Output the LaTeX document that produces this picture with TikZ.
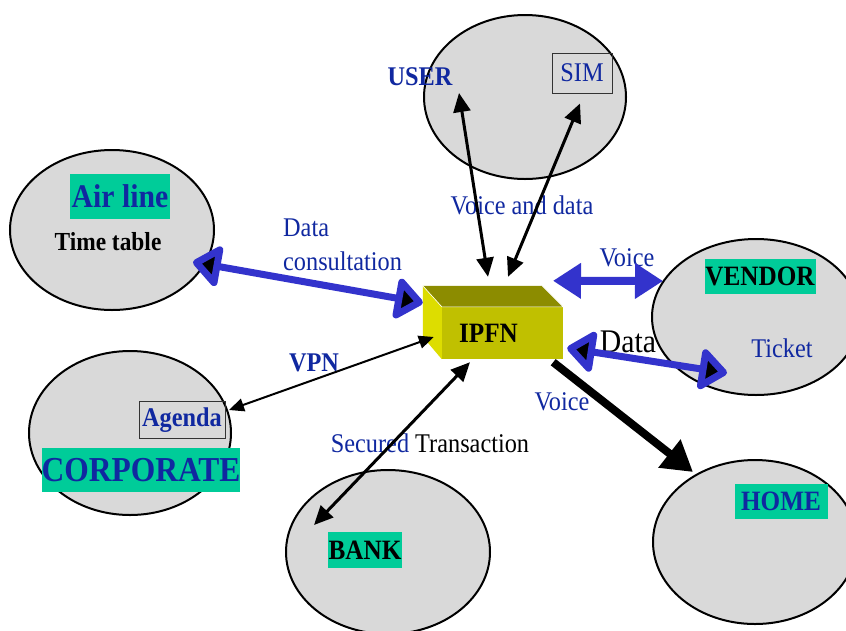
\documentclass[tikz,border=0pt]{standalone}
\usepackage{fontspec}
\setmainfont{Liberation Serif}[FakeStretch=0.9]
\usetikzlibrary{shapes.geometric,arrows.meta,positioning,calc}
\definecolor{zonegray}{RGB}{217,217,217}
\definecolor{taggreen}{RGB}{0,204,153}
\definecolor{labelblue}{RGB}{16,40,160}
\definecolor{linkblue}{RGB}{51,51,204}
\definecolor{boxfront}{RGB}{192,192,0}
\definecolor{boxtop}{RGB}{140,140,0}
\definecolor{boxside}{RGB}{221,221,0}
\newcommand{\fsize}[1]{\fontsize{#1}{#1}\selectfont}
\tikzset{
	zone/.style = {draw, line width=2pt, fill=zonegray, ellipse, inner sep=0pt},
	tag/.style = {fill=taggreen, inner sep=0pt, font=\bfseries\fsize{27}},
	framed/.style = {draw=black!80, line width=1pt, inner sep=0pt},
	plain/.style = {text=labelblue, inner sep=1pt, font=\fsize{26}},
	strong/.style = {text=labelblue, inner sep=1pt, font=\bfseries\fsize{26}},
	thinlink/.style = {line width=2pt, {Triangle[length=15pt,width=13pt]}-{Triangle[length=15pt,width=13pt]}},
	link/.style = {line width=3pt, {Triangle[length=19pt,width=17pt]}-{Triangle[length=19pt,width=17pt]}},
	bluelink/.style = {draw=linkblue, line width=7pt, line join=round,
		{Triangle[round,fill=black,length=30pt,width=46pt]}-{Triangle[round,fill=black,length=30pt,width=46pt]}},
	voicelink/.style = {draw=linkblue, line width=8pt, {Triangle[length=28pt,width=34pt]}-{Triangle[length=28pt,width=34pt]}},
	homelink/.style = {line width=8pt, -{Triangle[length=30pt,width=34pt]}}
}

\begin{document}
\begin{tikzpicture}[x=1pt,y=-1pt]
    \useasboundingbox (0,0) rectangle (846,630);
    \clip (0,0) rectangle (846,630);

    % zones
    \node [zone, minimum width=202, minimum height=164] (userzone) at (525,97) {};
    \node [zone, minimum width=204, minimum height=160] (airzone) at (112,230) {};
    \node [zone, minimum width=208, minimum height=156] (vendorzone) at (756,317) {};
    \node [zone, minimum width=202, minimum height=164] (corpzone) at (130,433) {};
    \node [zone, minimum width=204, minimum height=164] (bankzone) at (388,552) {};
    \node [zone, minimum width=204, minimum height=164] (homezone) at (755,542) {};

    % labels
    \node [strong, font=\bfseries\fsize{27}] (user) at (420,77) {USER};
    \node [framed, text=labelblue, font=\fsize{27}, minimum width=60, minimum height=40] (sim) at (582,73) {SIM};
    \node [plain, font=\fsize{27}] (voicedata) at (522,205) {Voice and data};
    \node [tag, text=labelblue, font=\bfseries\fsize{33}, minimum width=100, minimum height=45] (airline) at (120,196) {Air line};
    \node [inner sep=1pt, font=\bfseries\fsize{26}] (timetable) at (108,242) {Time table};
    \node [plain, anchor=west, align=left, font=\fsize{27}, inner sep=0pt] (consult) at (283,245) {Data\\[7pt]consultation};
    \node [plain, font=\fsize{27}] (voicetop) at (627,258) {Voice};
    \node [tag, font=\bfseries\fsize{28}, minimum width=111, minimum height=35] (vendor) at (760,276) {VENDOR};
    \node [inner sep=1pt, font=\fsize{33}] (datalbl) at (628,342) {Data};
    \node [plain, font=\fsize{27}] (ticket) at (782,348) {Ticket};
    \node [plain, font=\fsize{27}] (voicelow) at (562,402) {Voice};
    \node [strong, font=\bfseries\fsize{27}] (vpn) at (314,363) {VPN};
    \node [framed, text=labelblue, font=\bfseries\fsize{27}, minimum width=86, minimum height=37] (agenda) at (182,420) {Agenda};
    \node [tag, text=labelblue, font=\bfseries\fsize{35}, minimum width=195, minimum height=44] (corporate) at (141,470) {CORPORATE};
    \node [inner sep=1pt, font=\fsize{27}] (secured) at (430,443) {\textcolor{labelblue}{Secured} Transaction};
    \node [tag, font=\bfseries\fsize{28}, minimum width=74, minimum height=36] (bank) at (365,550) {BANK};
    \node [tag, text=labelblue, font=\bfseries\fsize{28}, minimum width=93, minimum height=35] (home) at (781,501) {HOME};

    % IPFN box
    \node [fill=boxfront, minimum width=121, minimum height=52, inner sep=0pt, font=\bfseries\fsize{28}] (ipfn) at (502.5,333) {IPFN\rule{28pt}{0pt}};
    \fill [boxtop] (ipfn.north west) -- ++(-19,-21) -- ($(ipfn.north east)+(-21,-21)$) -- (ipfn.north east) -- cycle;
    \fill [boxside] (ipfn.north west) -- ++(-19,-21) -- ++(0,51) -- (ipfn.south west) -- cycle;
    \draw [white, line width=0.6pt] ($(ipfn.north west)+(-19,-21)$) -- (ipfn.north west) -- (ipfn.north east) -- ++(-21,-21);

    % links
    \draw [link] ([xshift=39pt,yshift=-16pt]user.center) -- ([xshift=-14.5pt,yshift=30pt]ipfn.north);
    \draw [link] ([xshift=-2pt,yshift=-10pt]sim.south) -- ([xshift=5.5pt,yshift=30pt]ipfn.north);
    \draw [bluelink] ([xshift=81pt,yshift=-32pt]airzone.center) -- ([xshift=-19pt,yshift=4pt]ipfn.north west);
    \draw [voicelink] ([xshift=50.5pt,yshift=26pt]ipfn.north) -- ([xshift=-93pt,yshift=36pt]vendorzone.center);
    \draw [bluelink] ([xshift=4pt,yshift=-15pt]ipfn.east) -- ([xshift=-29pt,yshift=-56pt]vendorzone.center);
    \draw [thinlink] ([xshift=-8pt,yshift=-4pt]ipfn.west) -- ([xshift=99pt,yshift=23pt]corpzone.center);
    \draw [link] ([xshift=-32.5pt,yshift=-3pt]ipfn.south) -- ([xshift=-74pt,yshift=27pt]bankzone.center);
    \draw [homelink] ([xshift=-10pt,yshift=-3pt]ipfn.south east) -- ([xshift=-62pt,yshift=70pt]homezone.center);
\end{tikzpicture}
\end{document}
